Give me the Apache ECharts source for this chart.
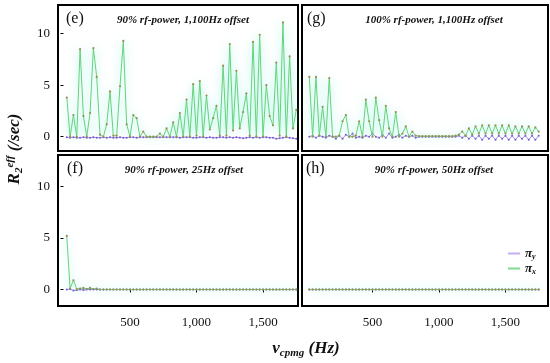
<!DOCTYPE html>
<html><head><meta charset="utf-8">
<script src="https://cdn.jsdelivr.net/npm/echarts@6/dist/echarts.min.js"></script>
<style>html,body{margin:0;padding:0;background:#fff}#c{width:550px;height:363px}</style>
</head><body><div id="c"></div>
<script>
// ---- data ----
const freqHz = [25,50,75,100,125,150,175,200,225,250,
  275,300,325,350,375,400,425,450,475,500,
  525,550,575,600,625,650,675,700,725,750,
  775,800,825,850,875,900,925,950,975,1000,
  1025,1050,1075,1100,1125,1150,1175,1200,1225,1250,
  1275,1300,1325,1350,1375,1400,1425,1450,1475,1500,
  1525,1550,1575,1600,1625,1650,1675,1700,1725,1750];

// (e) 90% rf-power, 1,100Hz offset
const eGreen = [3.8,0,2.1,0,8.5,2.0,0,2.3,8.6,5.8,
  0.2,0,1.2,4.4,0.1,0.1,4.9,9.3,1.2,0,
  2.1,1.8,0,0.5,0,0,0,0,0.3,0,
  0.8,0,1.4,0,2.3,0,3.6,0,5.1,0.1,
  5.4,0,4.0,0.7,1.8,3.0,0.1,6.9,0.1,9.0,
  0.6,6.4,0.8,2.4,4.2,0.1,9.2,0,9.9,0,
  5.0,2.0,1.1,7.2,0.1,11.1,0,7.8,0.8,2.6];
const ePurple = [-0.05,-0.1,-0.05,-0.1,-0.1,-0.05,-0.1,-0.1,-0.05,-0.1,
  -0.1,-0.05,-0.1,-0.05,-0.1,-0.1,-0.05,-0.1,-0.1,-0.05,
  -0.05,-0.1,-0.05,-0.05,-0.05,-0.05,-0.05,-0.05,-0.05,-0.05,
  -0.05,-0.05,-0.05,-0.05,-0.1,-0.05,-0.05,-0.05,-0.1,-0.1,
  -0.05,-0.05,-0.1,-0.05,-0.1,-0.1,-0.05,-0.05,-0.1,-0.05,
  -0.1,-0.05,-0.1,-0.15,-0.1,-0.05,-0.1,-0.05,-0.1,-0.05,
  -0.05,-0.1,-0.1,-0.2,-0.15,-0.1,-0.05,-0.1,-0.15,-0.2];

// (g) 100% rf-power, 1,100Hz offset
const gGreen = [5.8,0,5.8,0.1,2.9,0,5.7,0,0,0.1,
  1.5,2.1,0,0,0.1,1.5,0,3.6,1.5,0,
  3.8,1.6,0,3.0,0.8,0,2.4,0,0.3,1.0,
  0,0.5,0.1,0.05,0.05,0.05,0.05,0.05,0.05,0.05,
  0.05,0.05,0.05,0.05,0.1,0.2,0.5,0.1,0.8,0.2,
  1.0,0.3,1.1,0.3,1.1,0.3,1.1,0.3,1.1,0.3,
  1.1,0.3,1.0,0.3,1.0,0.3,1.0,0.3,0.9,0.5];
const gPurple = [0,0.1,-0.1,0.1,0,-0.1,0.1,0,-0.2,0.1,
  -0.2,0.2,0,0.3,-0.1,0,-0.1,0.1,0,0.3,
  0,-0.1,0.2,-0.1,0.3,-0.1,0,0.2,-0.1,0.1,
  0,0.1,-0.1,0,0,0,0,0,0,0,
  0,0,0,0,0,0.1,-0.1,0.1,-0.2,0.1,
  -0.2,0.1,-0.3,0.1,-0.2,0.1,-0.3,0.1,-0.2,0.1,
  -0.3,0.1,-0.3,0.1,-0.2,0.1,-0.3,0.1,-0.3,0.1];

// (f) 90% rf-power, 25Hz offset
const fGreen = [5.2,0.1,0.9,0.05,0.1,0.15,0.05,0.15,0.05,0.1,
  0,0,0,0,0,0,0,0,0,0,
  0,0,0,0,0,0,0,0,0,0,
  0,0,0,0,0,0,0,0,0,0,
  0,0,0,0,0,0,0,0,0,0,
  0,0,0,0,0,0,0,0,0,0,
  0,0,0,0,0,0,0,0,0,0];
const fPurple = [0,0.05,-0.1,-0.05,0,-0.05,0,0,0,0,
  0,0,0,0,0,0,0,0,0,0,
  0,0,0,0,0,0,0,0,0,0,
  0,0,0,0,0,0,0,0,0,0,
  0,0,0,0,0,0,0,0,0,0,
  0,0,0,0,0,0,0,0,0,0,
  0,0,0,0,0,0,0,0,0,0];

// (h) 90% rf-power, 50Hz offset
const hGreen = [0,0,0,0,0,0,0,0,0,0,
  0,0,0,0,0,0,0,0,0,0,
  0,0,0,0,0,0,0,0,0,0,
  0,0,0,0,0,0,0,0,0,0,
  0,0,0,0,0,0,0,0,0,0,
  0,0,0,0,0,0,0,0,0,0,
  0,0,0,0,0,0,0,0,0,0];
const hPurple = [0,0,0,0,0,0,0,0,0,0,
  0,0,0,0,0,0,0,0,0,0,
  0,0,0,0,0,0,0,0,0,0,
  0,0,0,0,0,0,0,0,0,0,
  0,0,0,0,0,0,0,0,0,0,
  0,0,0,0,0,0,0,0,0,0,
  0,0,0,0,0,0,0,0,0,0];

const panelLetters = ['(e)', '(g)', '(f)', '(h)'];
const panelTitles = ['90% rf-power, 1,100Hz offset', '100% rf-power, 1,100Hz offset',
                     '90% rf-power, 25Hz offset', '90% rf-power, 50Hz offset'];
const seriesNames = ['πy', 'πx'];
const xTickValues = [500, 1000, 1500];
const yTickValues = [0, 5, 10];

// ---- layout ----
const SERIF = 'Liberation Serif, Times New Roman, serif';
const panels = [
  {green: eGreen, purple: ePurple, grid: {left:58, top:5, width:240, height:146}, x:[-41,1763], y:[-1.39,12.79], showX:false, showY:true},
  {green: gGreen, purple: gPurple, grid: {left:302, top:5, width:246, height:146}, x:[-30,1820], y:[-1.39,12.79], showX:false, showY:false},
  {green: fGreen, purple: fPurple, grid: {left:58, top:155, width:240, height:151}, x:[-41,1763], y:[-1.6,13.06], showX:true, showY:true},
  {green: hGreen, purple: hPurple, grid: {left:302, top:155, width:246, height:151}, x:[-30,1820], y:[-1.6,13.06], showX:true, showY:false}
];

const zip = (xs, ys) => xs.map((x, i) => [x, ys[i]]);
const GREEN = '#66d27a', GREEN_DOT = '#9a8f55';
const PURPLE = '#b08ae6', PURPLE_DOT = '#7a55cc';

const option = {
  animation: false,
  backgroundColor: '#fff',
  grid: panels.map(p => Object.assign({show:true, borderColor:'#000', borderWidth:2, backgroundColor:'transparent'}, p.grid)),
  xAxis: panels.map((p, i) => ({
    gridIndex: i, type: 'value', min: p.x[0], max: p.x[1],
    axisLine: {show:false}, splitLine: {show:false},
    axisTick: {show: p.showX, customValues: xTickValues, length: 3, lineStyle:{color:'#000'}},
    axisLabel: {show: p.showX, customValues: xTickValues, fontFamily: SERIF, fontSize: 13, color:'#111', margin: 10,
      formatter: v => v.toLocaleString('en-US')}
  })),
  yAxis: panels.map((p, i) => ({
    gridIndex: i, type: 'value', min: p.y[0], max: p.y[1],
    axisLine: {show:false}, splitLine: {show:false},
    axisTick: {show: p.showY, customValues: yTickValues, length: 3, lineStyle:{color:'#000'}},
    axisLabel: {show: p.showY, customValues: yTickValues, fontFamily: SERIF, fontSize: 13, color:'#111', margin: 8}
  })),
  legend: {
    left: 503, top: 242, orient: 'vertical', itemGap: 1, itemWidth: 12, itemHeight: 2,
    data: [
      {name: seriesNames[0], icon: 'rect', itemStyle: {color: '#c4aef0'}},
      {name: seriesNames[1], icon: 'rect', itemStyle: {color: '#7fd98f'}}
    ],
    formatter: n => '{p|π}{s|' + n.slice(1) + '}',
    textStyle: {rich: {
      p: {fontFamily: SERIF, fontStyle:'italic', fontWeight:'bold', fontSize: 13, color:'#111'},
      s: {fontFamily: SERIF, fontStyle:'italic', fontWeight:'bold', fontSize: 8, color:'#111', padding:[7,0,0,0]}
    }}
  },
  series: [],
  graphic: []
};

panels.forEach((p, i) => {
  option.series.push({
    name: seriesNames[0], type: 'line', xAxisIndex: i, yAxisIndex: i,
    data: zip(freqHz, p.purple), symbol: 'circle', symbolSize: 2, showSymbol: true,
    lineStyle: {color: PURPLE, width: 1}, itemStyle: {color: PURPLE_DOT}, z: 2
  });
  option.series.push({
    name: seriesNames[1], type: 'line', xAxisIndex: i, yAxisIndex: i,
    data: zip(freqHz, p.green), symbol: 'circle', symbolSize: 2.2, showSymbol: true,
    lineStyle: {color: GREEN, width: 1, shadowColor: 'rgba(110,240,215,0.85)', shadowBlur: 10},
    itemStyle: {color: GREEN_DOT}, z: 3
  });
});

const letterPos = [[66,20],[307,20],[67,170],[306,170]];
const titlePos = [[183,20],[434,20],[184,170],[434,170]];
panels.forEach((p, i) => {
  option.graphic.push({type:'text', left: letterPos[i][0], top: letterPos[i][1]-9,
    style:{text: panelLetters[i], font: '16px ' + SERIF, fill:'#111'}});
  option.graphic.push({type:'text', x: titlePos[i][0], y: titlePos[i][1],
    style:{text: panelTitles[i], font: 'italic bold 11px ' + SERIF, fill:'#111', textAlign:'center', textVerticalAlign:'middle', align:'center', verticalAlign:'middle'}});
});

// axis titles
option.graphic.push({type:'text', x: 15, y: 149, rotation: Math.PI/2,
  style:{text:'{r|R}{s|2}{e|eff}{n| (/sec)}', align:'center', verticalAlign:'middle', fill:'#111',
    rich:{
      r:{font:'italic bold 17px ' + SERIF, fill:'#111'},
      s:{font:'italic bold 11px ' + SERIF, fill:'#111', padding:[9,0,0,0]},
      e:{font:'italic bold 11px ' + SERIF, fill:'#111', padding:[0,0,9,0]},
      n:{font:'italic bold 17px ' + SERIF, fill:'#111'}
    }}});
option.graphic.push({type:'text', x: 306, y: 349,
  style:{text:'{v|ν}{s|cpmg}{n| (Hz)}', align:'center', verticalAlign:'middle', fill:'#111',
    rich:{
      v:{font:'italic bold 17px ' + SERIF, fill:'#111'},
      s:{font:'italic bold 11px ' + SERIF, fill:'#111', padding:[9,0,0,0]},
      n:{font:'italic bold 17px ' + SERIF, fill:'#111'}
    }}});

const chart = echarts.init(document.getElementById('c'), null, {renderer:'canvas'});
chart.setOption(option);
</script>
</body></html>
